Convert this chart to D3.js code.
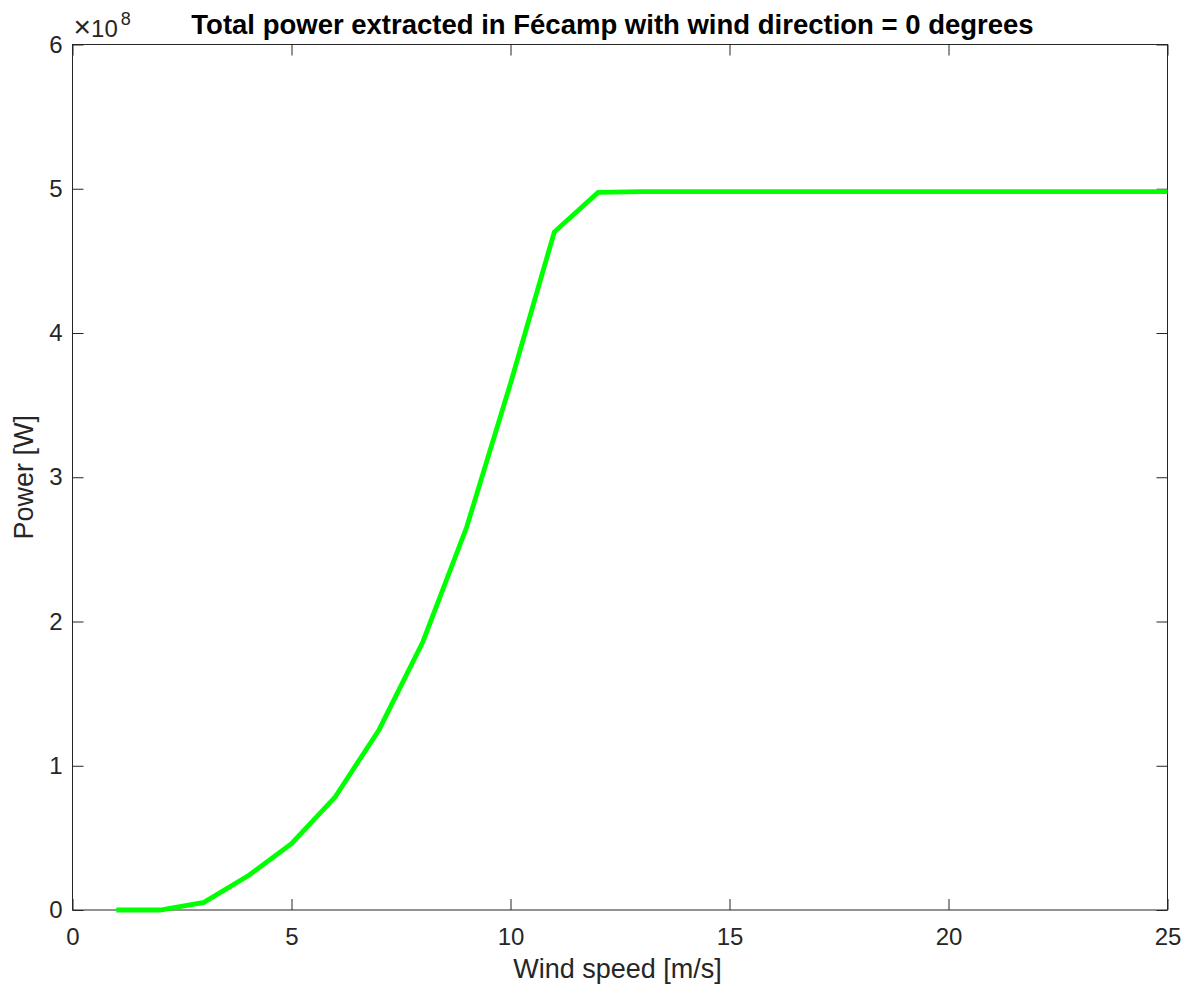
<!DOCTYPE html>
<html>
<head>
<meta charset="utf-8">
<script src="https://cdn.jsdelivr.net/npm/d3@7"></script>
<style>
  html, body { margin: 0; padding: 0; background: #fff; }
  svg { display: block; font-family: "Liberation Sans", Arial, Helvetica, sans-serif; }
</style>
</head>
<body>
<svg id="chart" width="1192" height="988"></svg>
<script>
// Wind speed [m/s]
const windSpeed = [1, 2, 3, 4, 5, 6, 7, 8, 9, 10, 11, 12, 13, 14, 15, 16, 17, 18, 19, 20, 21, 22, 23, 24, 25];
// Total extracted power [W]
const power = [0, 0, 0.053e8, 0.235e8, 0.46e8, 0.785e8, 1.25e8, 1.86e8, 2.655e8, 3.65e8, 4.70e8, 4.975e8,
               4.98e8, 4.98e8, 4.98e8, 4.98e8, 4.98e8, 4.98e8, 4.98e8, 4.98e8, 4.98e8, 4.98e8, 4.98e8, 4.98e8, 4.98e8];
const xTicks = [0, 5, 10, 15, 20, 25];
const yTicks = [0, 1, 2, 3, 4, 5, 6]; // in units of 1e8
const exponent = 8;

const svg = d3.select("#chart");
const plotLeft = 72.5, plotRight = 1167.5, plotTop = 44.5, plotBottom = 910;
const axisColor = "#262626";

const x = d3.scaleLinear().domain([0, 25]).range([plotLeft, plotRight]);
const y = d3.scaleLinear().domain([0, 6e8]).range([plotBottom, plotTop]);

const tickLen = 11;

// Box axes with inward ticks on all four sides
const g = svg.append("g");
g.append("rect")
  .attr("x", plotLeft).attr("y", plotTop)
  .attr("width", plotRight - plotLeft).attr("height", plotBottom - plotTop)
  .attr("fill", "none").attr("stroke", axisColor).attr("stroke-width", 1);

const xAxisBottom = d3.axisBottom(x).tickValues(xTicks).tickSizeInner(-tickLen).tickSizeOuter(0).tickPadding(18);
const xAxisTop = d3.axisTop(x).tickValues(xTicks).tickSizeInner(-tickLen).tickSizeOuter(0).tickFormat("");
const yAxisLeft = d3.axisLeft(y).tickValues(yTicks.map(d => d * 1e8)).tickSizeInner(-tickLen).tickSizeOuter(0)
  .tickPadding(10).tickFormat(d => d3.format("d")(d / 1e8));
const yAxisRight = d3.axisRight(y).tickValues(yTicks.map(d => d * 1e8)).tickSizeInner(-tickLen).tickSizeOuter(0).tickFormat("");

function styleAxis(sel) {
  sel.select(".domain").remove();
  sel.selectAll(".tick line").attr("stroke", axisColor).attr("stroke-width", 1);
  sel.selectAll(".tick text").attr("fill", axisColor).style("font-size", "24px")
     .style("font-family", "'Liberation Sans', Arial, sans-serif");
}

g.append("g").attr("transform", `translate(0,${plotBottom})`).call(xAxisBottom).call(styleAxis);
g.append("g").attr("transform", `translate(0,${plotTop})`).call(xAxisTop).call(styleAxis);
g.append("g").attr("transform", `translate(${plotLeft},0)`).call(yAxisLeft).call(styleAxis);
g.append("g").attr("transform", `translate(${plotRight},0)`).call(yAxisRight).call(styleAxis);

// Power curve
const line = d3.line().x((d, i) => x(windSpeed[i])).y(d => y(d));
svg.append("path")
  .datum(power)
  .attr("d", line)
  .attr("fill", "none")
  .attr("stroke", "#00ff00")
  .attr("stroke-width", 4.8)
  .attr("stroke-linejoin", "miter");

// Exponent label (×10^8)
const expText = svg.append("text")
  .attr("x", plotLeft + 1).attr("y", 37)
  .attr("fill", axisColor)
  .style("font-size", "24px");
expText.append("tspan").style("font-size", "30px").text("\u00d7");
expText.append("tspan").text("10");
expText.append("tspan").attr("dx", 3).attr("dy", -12).style("font-size", "18px").text(exponent);

// Title
svg.append("text")
  .attr("x", 612.5).attr("y", 34)
  .attr("text-anchor", "middle")
  .attr("fill", "#000")
  .style("font-size", "27.5px").style("font-weight", "bold")
  .text("Total power extracted in Fécamp with wind direction = 0 degrees");

// Axis labels
svg.append("text")
  .attr("x", 617.5).attr("y", 978)
  .attr("text-anchor", "middle")
  .attr("fill", axisColor)
  .style("font-size", "27px")
  .text("Wind speed [m/s]");

svg.append("text")
  .attr("transform", `translate(33,${(plotTop + plotBottom) / 2}) rotate(-90)`)
  .attr("text-anchor", "middle")
  .attr("fill", axisColor)
  .style("font-size", "27px")
  .text("Power [W]");
</script>
</body>
</html>
